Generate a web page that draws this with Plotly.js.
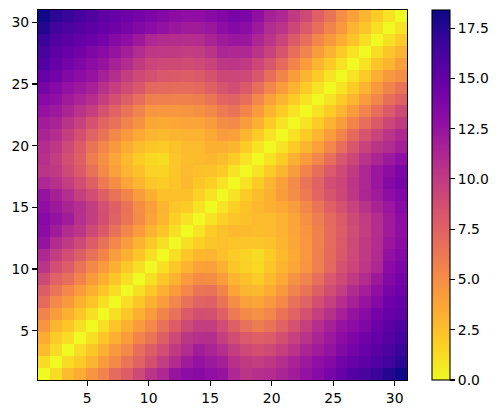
<!DOCTYPE html>
<html><head><meta charset="utf-8">
<script src="https://cdn.plot.ly/plotly-3.0.1.min.js"></script>
<style>html,body{margin:0;padding:0;background:#fff}#c{width:500px;height:413px}</style>
</head><body><div id="c"></div>
<script>
// rows run y = 1 .. 31, columns x = 1 .. 31
const distances = [
[0,1.3,2.7,3.4,4.6,5.6,6.9,7.8,9.1,10.4,11.2,12.5,13,13.3,12.8,12.5,11.2,10.4,10.7,10.9,11.4,11.9,12.6,13.3,14,14.9,15.8,16.2,16.7,17.6,18.3],
[1.3,0,1.3,2,3,4.2,5.2,6.4,7.5,8.7,9.8,11,12,12.6,12.1,11.7,10.6,10,9.8,10.2,10.8,11.5,12.2,12.8,13.4,14.3,14.9,15.3,15.8,16.5,17.3],
[2.7,1.3,0,1.2,2.2,3.2,4.4,5.3,6.8,7.8,8.8,10,11,11.9,11.4,10.8,9.8,9,8.7,9,9.7,10.5,11.4,12,12.6,13.5,14.2,14.8,15.4,16,16.8],
[3.4,2,1.2,0,1.1,2.2,3.2,4.2,5.5,6.5,7.7,9,10.3,10.7,10.8,9.7,8.8,8,7.6,7.9,8.7,9.6,10.5,11.4,12.2,13,13.7,14.4,15,15.6,16.3],
[4.6,3,2.2,1.1,0,1.1,2.3,3.2,4.3,5.3,6.6,7.8,9,9.8,9.8,8.8,7.6,6.6,6,6.5,7.5,8.5,9.7,10.8,11.6,12.5,13,13.7,14.6,15.3,15.9],
[5.6,4.2,3.2,2.2,1.1,0,1.1,2.2,3.2,4.3,5.5,6.6,8,8.7,8.6,7.6,6.1,5.2,4.8,5.4,6.5,7.4,8.5,9.7,10.6,11.6,12.5,13.2,14.2,14.8,15.2],
[6.9,5.2,4.4,3.2,2.3,1.1,0,1.2,2.2,3.2,4.2,5.4,6.6,7.5,7.6,6.5,5,4,3.8,4.4,5.3,6.6,7.5,8.7,9.7,10.8,11.6,12.5,13.4,14.5,14.9],
[7.8,6.4,5.3,4.2,3.2,2.2,1.2,0,1.1,2.1,3.2,4.2,5.4,6.4,6.5,5.5,3.8,3,2.8,3.4,4.4,5.6,6.5,7.7,8.9,9.8,11,11.8,12.8,14,14.5],
[9.1,7.5,6.8,5.5,4.3,3.2,2.2,1.1,0,1.1,2.2,3.1,4.3,5.1,5,4.2,3,2.5,2,2.7,3.6,4.7,5.6,6.8,8.1,9,10,11,12.1,13.5,14.2],
[10.4,8.7,7.8,6.5,5.3,4.3,3.2,2.1,1.1,0,1.1,2.1,3.1,3.9,4,3.2,2.2,1.7,1.4,2.2,3,3.7,4.6,5.8,7.1,8.5,9.3,10.2,11.2,13.1,13.8],
[11.2,9.8,8.8,7.7,6.6,5.5,4.2,3.2,2.2,1.1,0,1.1,2.2,2.9,3,2.5,2,1.6,1.3,2,2.8,3.5,4.5,5.8,7,8.1,9.1,10.1,11,12.7,13.4],
[12.5,11,10,9,7.8,6.6,5.4,4.2,3.1,2.1,1.1,0,1.1,1.8,2.2,2.5,2.3,2.2,2.2,2.4,3,3.7,4.5,5.7,6.9,8,9,10,10.9,12.3,13],
[13,12,11,10.3,9,8,6.6,5.4,4.3,3.1,2.2,1.1,0,1,2,2.5,2.8,2.7,2.6,2.7,3.1,3.8,4.6,5.7,6.9,7.8,8.9,9.8,10.8,12,12.8],
[13.3,12.6,11.9,10.7,9.8,8.7,7.5,6.4,5.1,3.9,2.9,1.8,1,0,1,1.7,2.2,2.5,2.7,2.7,3.1,3.8,4.8,5.9,7,8,9,9.9,10.9,12,12.9],
[12.8,12.1,11.4,10.8,9.8,8.6,7.6,6.5,5,4,3,2.2,2,1,0,1,1.8,2.4,2.9,3.2,3.6,4.2,5.3,6.4,7.6,8.5,9.5,10.5,11.5,12.3,13.2],
[12.5,11.7,10.8,9.7,8.8,7.6,6.5,5.5,4.2,3.2,2.5,2.5,2.5,1.7,1,0,1,2,2.6,3.2,4.2,5,6.1,7.3,8.4,9.2,10.2,11.3,12,12.9,13.6],
[11.2,10.6,9.8,8.8,7.6,6.1,5,3.8,3,2.2,2,2.3,2.8,2.2,1.8,1,0,1,2,3,4,5.2,6.5,7.5,8.8,9.3,10.3,11.2,12.3,13.4,14],
[10.4,10,9,8,6.6,5.2,4,3,2.5,1.7,1.6,2.2,2.7,2.5,2.4,2,1,0,1,2,3,4.2,5.5,6.7,8,9,10,11.2,12.3,13,13.8],
[10.7,9.8,8.7,7.6,6,4.8,3.8,2.8,2,1.4,1.3,2.2,2.6,2.7,2.9,2.6,2,1,0,1,2,3.2,4.3,5.4,6.7,8.2,9.2,10.5,11.3,12.2,12.8],
[10.9,10.2,9,7.9,6.5,5.4,4.4,3.4,2.7,2.2,2,2.4,2.7,2.7,3.2,3.2,3,2,1,0,1,2,3,4,5.4,6.8,8.2,9.5,10.4,11,11.7],
[11.4,10.8,9.7,8.7,7.5,6.5,5.3,4.4,3.6,3,2.8,3,3.1,3.1,3.6,4.2,4,3,2,1,0,1,2,3,4.2,5.5,7,8.3,9.4,10.4,11.2],
[11.9,11.5,10.5,9.6,8.5,7.4,6.6,5.6,4.7,3.7,3.5,3.7,3.8,3.8,4.2,5,5.2,4.2,3.2,2,1,0,1,2,3.1,4.2,5.5,6.8,8,9.2,10],
[12.6,12.2,11.4,10.5,9.7,8.5,7.5,6.5,5.6,4.6,4.5,4.5,4.6,4.8,5.3,6.1,6.5,5.5,4.3,3,2,1,0,1,2,3,4.2,5.6,6.8,8,9],
[13.3,12.8,12,11.4,10.8,9.7,8.7,7.7,6.8,5.8,5.8,5.7,5.7,5.9,6.4,7.3,7.5,6.7,5.4,4,3,2,1,0,1,2,3,4.2,5.4,6.7,7.6],
[14,13.4,12.6,12.2,11.6,10.6,9.7,8.9,8.1,7.1,7,6.9,6.9,7,7.6,8.4,8.8,8,6.7,5.4,4.2,3.1,2,1,0,1,2,3.1,4.4,5.6,6.5],
[14.9,14.3,13.5,13,12.5,11.6,10.8,9.8,9,8.5,8.1,8,7.8,8,8.5,9.2,9.3,9,8.2,6.8,5.5,4.2,3,2,1,0,1,2,3.3,4.4,5],
[15.8,14.9,14.2,13.7,13,12.5,11.6,11,10,9.3,9.1,9,8.9,9,9.5,10.2,10.3,10,9.2,8.2,7,5.5,4.2,3,2,1,0,1,2.3,3,4],
[16.2,15.3,14.8,14.4,13.7,13.2,12.5,11.8,11,10.2,10.1,10,9.8,9.9,10.5,11.3,11.2,11.2,10.5,9.5,8.3,6.8,5.6,4.2,3.1,2,1,0,1.2,2.2,3],
[16.7,15.8,15.4,15,14.6,14.2,13.4,12.8,12.1,11.2,11,10.9,10.8,10.9,11.5,12,12.3,12.3,11.3,10.4,9.4,8,6.8,5.4,4.4,3.3,2.3,1.2,0,1.1,2],
[17.6,16.5,16,15.6,15.3,14.8,14.5,14,13.5,13.1,12.7,12.3,12,12,12.3,12.9,13.4,13,12.2,11,10.4,9.2,8,6.7,5.6,4.4,3,2.2,1.1,0,1],
[18.3,17.3,16.8,16.3,15.9,15.2,14.9,14.5,14.2,13.8,13.4,13,12.8,12.9,13.2,13.6,14,13.8,12.8,11.7,11.2,10,9,7.6,6.5,5,4,3,2,1,0]
];
const axisTicks = [5,10,15,20,25,30];
const colorbarTicks = [0,2.5,5,7.5,10,12.5,15,17.5];
const colorbarLabels = ["0.0","2.5","5.0","7.5","10.0","12.5","15.0","17.5"];
const plasmaReversed = [[0,"#f0f921"],[0.1,"#fcce25"],[0.2,"#fca636"],[0.3,"#f2844b"],[0.4,"#e16462"],[0.5,"#cc4778"],[0.6,"#b12a90"],[0.7,"#8f0da4"],[0.8,"#6a00a8"],[0.9,"#41049d"],[1,"#0d0887"]];

const font = {family:"DejaVu Sans", size:13.9, color:"#000"};
const axis = {
  range:[1,31], tickmode:"array", tickvals:axisTicks, ticktext:axisTicks.map(String),
  ticks:"outside", ticklen:5, tickwidth:1.1, tickcolor:"#000",
  showline:true, linecolor:"#000", linewidth:1.1, mirror:true,
  showgrid:false, zeroline:false, tickfont:font
};
Plotly.newPlot("c",[{
  type:"heatmap", z:distances, x0:1+15/31, dx:30/31, y0:1+15/31, dy:30/31,
  zmin:0, zmax:18.4, colorscale:plasmaReversed, hoverinfo:"skip", zsmooth:false,
  colorbar:{
    thickness:18, thicknessmode:"pixels", len:1, lenmode:"fraction",
    x:1.0676, xanchor:"left", xpad:0, y:0.5, yanchor:"middle", ypad:0,
    outlinecolor:"#000", outlinewidth:1.1,
    tickmode:"array", tickvals:colorbarTicks, ticktext:colorbarLabels,
    ticks:"outside", ticklen:5, tickwidth:1.1, tickcolor:"#000", tickfont:font
  }
}],{
  width:500, height:413, autosize:false,
  margin:{l:37.5,r:93,t:10,b:33,pad:0},
  paper_bgcolor:"#fff", plot_bgcolor:"#fff",
  xaxis:axis, yaxis:Object.assign({},axis),
  showlegend:false
},{displayModeBar:false, staticPlot:true});
</script></body></html>
